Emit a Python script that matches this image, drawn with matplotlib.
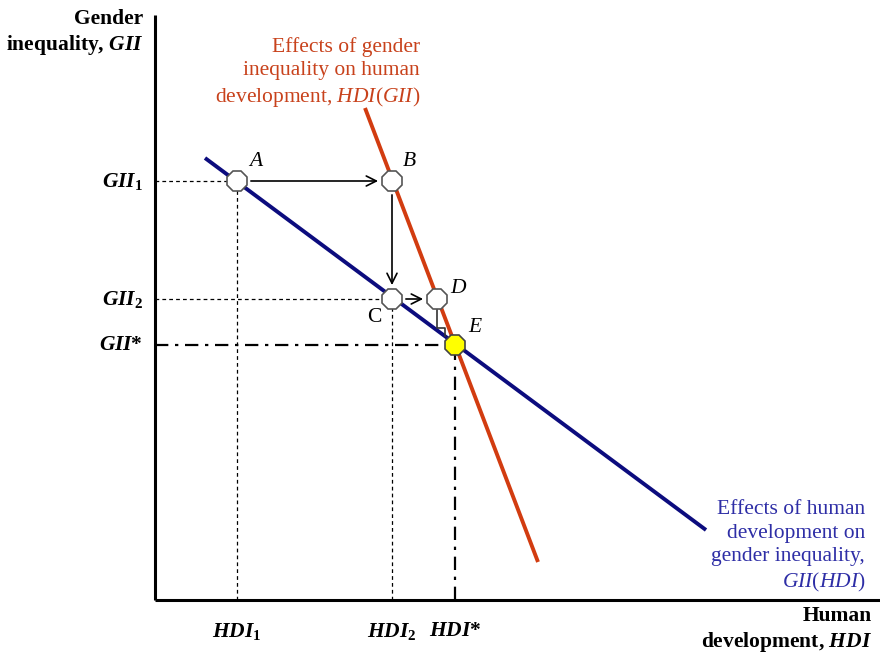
import numpy as np
import matplotlib
matplotlib.use("Agg")
import matplotlib.pyplot as plt

# Settings
plt.rcParams['font.family'] = ['Liberation Serif', 'DejaVu Serif']
plt.rcParams['mathtext.fontset'] = 'custom'
plt.rcParams['mathtext.rm'] = 'Liberation Serif'
plt.rcParams['mathtext.it'] = 'Liberation Serif:italic'
plt.rcParams['mathtext.bf'] = 'Liberation Serif:bold'
plt.rcParams['mathtext.bfit'] = 'Liberation Serif:italic:bold'

# Points of the adjustment path (HDI, GII)
point_names = ['A', 'B', 'C', 'D', 'E']
point_hdi = [82, 237, 237, 282, 300]
point_gii = [419, 419, 301, 301, 255]

# Curve end points
gii_of_hdi_x = [50, 551]      # blue: GII(HDI)
gii_of_hdi_y = [442, 70]
hdi_of_gii_x = [210, 383]     # red: HDI(GII)
hdi_of_gii_y = [492, 38]

# Step from D down to E
step_x = [282, 282, 290, 290]
step_y = [291, 272, 272, 264]

blue_line = '#0c0c7e'
blue_text = '#2e2ea6'
red_line = '#d23c10'
red_text = '#c8421c'

fig = plt.figure(figsize=(8.8, 6.55), dpi=100)
ax = fig.add_axes([0, 0, 1, 1])
ax.set_xlim(-155, 725)
ax.set_ylim(-55, 600)
ax.axis('off')

# axes
ax.plot([0, 0], [0, 585], color='black', lw=2.2, solid_capstyle='butt')
ax.plot([0, 725], [0, 0], color='black', lw=2.2, solid_capstyle='butt')

pts = dict(zip(point_names, zip(point_hdi, point_gii)))
A, B, C, D, E = (pts[n] for n in point_names)

# guide lines
dash = (0, (3, 2.5))
dashdot = (0, (6, 3, 1.5, 3))
ax.plot([0, A[0]], [A[1], A[1]], color='black', lw=0.9, ls=dash)
ax.plot([A[0], A[0]], [0, A[1]], color='black', lw=0.9, ls=dash)
ax.plot([0, C[0]], [C[1], C[1]], color='black', lw=0.9, ls=dash)
ax.plot([C[0], C[0]], [0, C[1]], color='black', lw=0.9, ls=dash)
ax.plot([0, E[0]], [E[1], E[1]], color='black', lw=1.6, ls=dashdot)
ax.plot([E[0], E[0]], [0, E[1]], color='black', lw=1.6, ls=dashdot)

# curves
ax.plot(hdi_of_gii_x, hdi_of_gii_y, color=red_line, lw=2.8, solid_capstyle='butt')
ax.plot(gii_of_hdi_x, gii_of_hdi_y, color=blue_line, lw=2.8, solid_capstyle='butt')

# arrows A->B, B->C, C->D
arrow_kw = dict(arrowstyle='->', color='black', lw=1.2, mutation_scale=18,
                shrinkA=10, shrinkB=10)
ax.annotate('', xy=B, xytext=A, arrowprops=arrow_kw)
ax.annotate('', xy=C, xytext=B, arrowprops=arrow_kw)
ax.annotate('', xy=D, xytext=C, arrowprops=arrow_kw)
ax.plot(step_x, step_y, color='#333333', lw=1.2)

# markers
for name in point_names[:4]:
    ax.plot(*pts[name], marker='8', ms=16, mfc='white', mec='#555555', mew=1.2)
ax.plot(*E, marker='8', ms=16, mfc='#ffff00', mec='#444444', mew=1.2)

# point labels
fs = 15.5
ax.text(A[0] + 12, A[1] + 10, 'A', fontsize=fs, style='italic', ha='left', va='bottom')
ax.text(B[0] + 11, B[1] + 10, 'B', fontsize=fs, style='italic', ha='left', va='bottom')
ax.text(C[0] - 10, C[1] - 9, 'C', fontsize=fs, ha='right', va='top')
ax.text(D[0] + 13, D[1] + 1, 'D', fontsize=fs, style='italic', ha='left', va='bottom')
ax.text(E[0] + 13, E[1] + 8, 'E', fontsize=fs, style='italic', ha='left', va='bottom')

# tick labels
ax.text(-12, A[1], r'$\mathbfit{GII}_{\mathbf{1}}$', fontsize=fs, ha='right', va='center')
ax.text(-12, C[1], r'$\mathbfit{GII}_{\mathbf{2}}$', fontsize=fs, ha='right', va='center')
ax.text(-12, E[1], r'$\mathbfit{GII}$*', fontsize=fs, weight='bold', ha='right', va='center')
ax.text(A[0], -31, r'$\mathbfit{HDI}_{\mathbf{1}}$', fontsize=fs, ha='center', va='center')
ax.text(C[0], -31, r'$\mathbfit{HDI}_{\mathbf{2}}$', fontsize=fs, ha='center', va='center')
ax.text(E[0], -31, r'$\mathbfit{HDI}$*', fontsize=fs, weight='bold', ha='center', va='center')

# axis titles
ax.text(-12, 567, 'Gender\ninequality, $\\mathbfit{GII}$', fontsize=fs, weight='bold',
        ha='right', va='center', linespacing=1.25)
ax.text(717, -30, 'Human\ndevelopment, $\\mathbfit{HDI}$', fontsize=fs, weight='bold',
        ha='right', va='center', linespacing=1.25)

# curve labels
ax.text(265, 527, 'Effects of gender\ninequality on human\ndevelopment, $HDI$($GII$)',
        fontsize=fs, color=red_text, ha='right', va='center', linespacing=1.3)
ax.text(710, 53, 'Effects of human\ndevelopment on\ngender inequality,\n$GII$($HDI$)',
        fontsize=fs, color=blue_text, ha='right', va='center', linespacing=1.3)

plt.savefig('out.png', dpi=100)
